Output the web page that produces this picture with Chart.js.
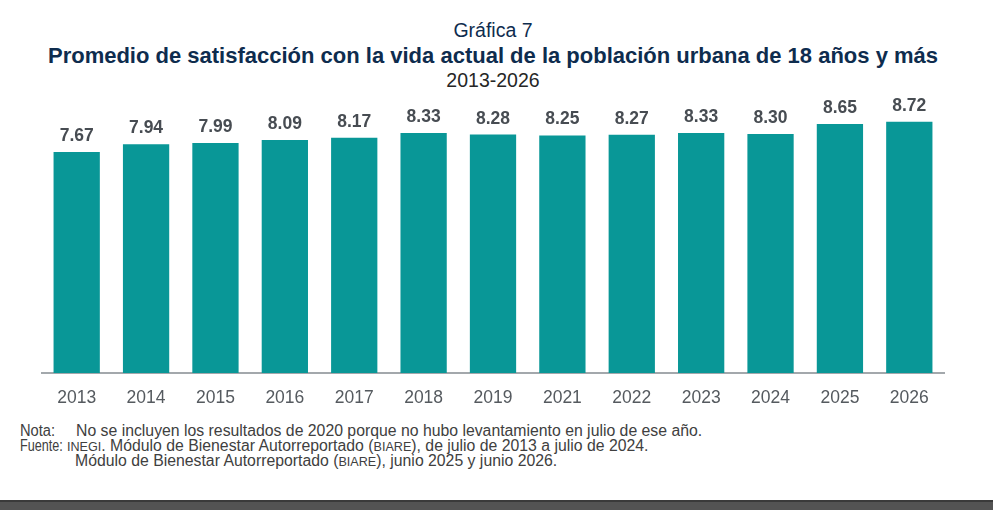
<!DOCTYPE html>
<html>
<head>
<meta charset="utf-8">
<script src="https://cdn.jsdelivr.net/npm/chart.js@4.4.1/dist/chart.umd.min.js"></script>
<style>
  html, body { margin:0; padding:0; background:#fff; width:993px; height:510px; overflow:hidden; font-family:"Liberation Sans", Arial, sans-serif; }
  .t { position:absolute; left:0; width:986px; text-align:center; line-height:1; white-space:nowrap; }
  .n { position:absolute; line-height:1; white-space:nowrap; font-size:15.8px; color:#404040; }
  .lbl { transform-origin:0 0; }
  .sc { font-size:12.6px; }
  #wrap { position:absolute; left:0; top:0; width:993px; height:420px; }
  #status { position:absolute; left:0; top:500px; width:993px; height:10px; background:#535353; border-top:2px solid #3a3a3a; box-sizing:border-box; }
</style>
</head>
<body>
<div class="t" style="top:21px;font-size:19.5px;color:#0E2C4E;">Gráfica 7</div>
<div class="t" style="top:44.5px;font-size:22px;font-weight:bold;color:#0E2C4E;">Promedio de satisfacción con la vida actual de la población urbana de 18 años y más</div>
<div class="t" style="top:71px;font-size:19.5px;color:#262626;">2013-2026</div>
<div id="wrap"><canvas id="c" width="993" height="420"></canvas></div>
<div class="n lbl" style="left:20px;top:422.5px;transform:scaleX(0.93);">Nota:</div>
<div class="n" style="left:76px;top:422.5px;">No se incluyen los resultados de 2020 porque no hubo levantamiento en julio de ese año.</div>
<div class="n lbl" style="left:20px;top:438.3px;transform:scaleX(0.8);">Fuente:</div>
<div class="n" style="left:67px;top:438.3px;"><span class="sc">INEGI</span>. Módulo de Bienestar Autorreportado (<span class="sc">BIARE</span>), de julio de 2013 a julio de 2024.</div>
<div class="n" style="left:75px;top:453.3px;">Módulo de Bienestar Autorreportado (<span class="sc">BIARE</span>), junio 2025 y junio 2026.</div>
<div id="status"></div>
<script>
const years = ["2013","2014","2015","2016","2017","2018","2019","2021","2022","2023","2024","2025","2026"];
const values = [7.67, 7.94, 7.99, 8.09, 8.17, 8.33, 8.28, 8.25, 8.27, 8.33, 8.30, 8.65, 8.72];
const yMin = 0;
const yMax = 10;

const valueLabels = {
  id: 'valueLabels',
  afterDatasetsDraw(chart) {
    const ctx = chart.ctx;
    const meta = chart.getDatasetMeta(0);
    ctx.save();
    ctx.font = 'bold 17.5px "Liberation Sans", Arial, sans-serif';
    ctx.fillStyle = '#474C52';
    ctx.textAlign = 'center';
    ctx.textBaseline = 'alphabetic';
    meta.data.forEach((bar, i) => {
      ctx.fillText(chart.data.datasets[0].data[i].toFixed(2), bar.x, bar.y - 11);
    });
    ctx.restore();
  }
};

new Chart(document.getElementById('c'), {
  type: 'bar',
  data: {
    labels: years,
    datasets: [{
      data: values,
      backgroundColor: '#099797',
      borderWidth: 0,
      barPercentage: 0.667,
      categoryPercentage: 1.0
    }]
  },
  options: {
    responsive: false,
    animation: false,
    devicePixelRatio: 1,
    layout: { padding: { left: 42, right: 49, top: 85, bottom: 7 } },
    plugins: { legend: { display: false }, tooltip: { enabled: false }, title: { display: false } },
    scales: {
      x: {
        grid: { display: false },
        border: { display: true, color: '#A3A8AC', width: 2 },
        ticks: { color: '#555A5F', font: { family: '"Liberation Sans", Arial, sans-serif', size: 17.5 }, padding: 7, maxRotation: 0, autoSkip: false },
        afterFit(scale) { scale.height = 40; }
      },
      y: {
        display: false,
        min: yMin,
        max: yMax
      }
    }
  },
  plugins: [valueLabels]
});
</script>
</body>
</html>
